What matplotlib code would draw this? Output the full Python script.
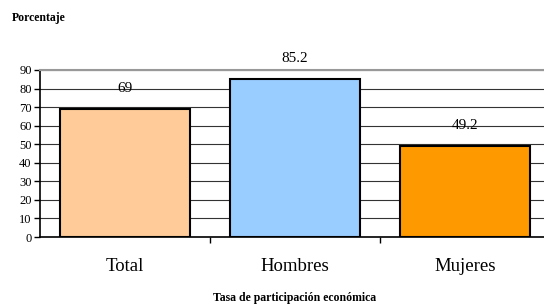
import matplotlib
matplotlib.use("Agg")
import matplotlib.pyplot as plt
import numpy as np

categories = ["Total", "Hombres", "Mujeres"]
values = [69, 85.2, 49.2]
labels = ["69", "85.2", "49.2"]
colors = ["#ffcc99", "#99ccff", "#ff9900"]
yticks = list(range(0, 100, 10))

plt.rcParams['font.family'] = ['Liberation Serif', 'DejaVu Serif']

fig = plt.figure(figsize=(5.44, 3.07), dpi=100)
ax = fig.add_axes([40/544, 70/307, 510/544, 167/307])

x = np.arange(len(categories))
ax.bar(x, values, width=0.765, color=colors, edgecolor="black", linewidth=1.5, zorder=3)

for xi, v, lab in zip(x, values, labels):
    ax.text(xi, v + 11, lab, ha="center", va="center", fontsize=11, zorder=4)

ax.set_xlim(-0.5, 2.5)
ax.set_ylim(0, 90)
ax.set_yticks(yticks)
ax.yaxis.grid(True, color="#333333", linewidth=0.8, zorder=0)
ax.tick_params(axis="y", labelsize=9, length=4, width=1, direction="out", pad=2)

ax.set_xticks([0.5, 1.5, 2.5])
ax.set_xticklabels([])
ax.set_xticks(x, minor=True)
ax.set_xticklabels(categories, minor=True, fontsize=13.5)
ax.tick_params(axis="x", which="major", length=4, width=1, direction="out")
ax.tick_params(axis="x", which="minor", length=0, pad=15)

ax.spines["top"].set_color("#999999")
ax.spines["top"].set_linewidth(1.5)
ax.spines["right"].set_visible(False)
ax.spines["left"].set_linewidth(1.2)
ax.spines["bottom"].set_linewidth(1.2)

fig.text(12/544, 1 - 18/307, "Porcentaje", fontsize=8.5, fontweight="bold", va="center", ha="left")
fig.text(295/544, 1 - 298/307, "Tasa de participación económica", fontsize=8.5, fontweight="bold",
         va="center", ha="center")

fig.savefig("out.png", dpi=100)
